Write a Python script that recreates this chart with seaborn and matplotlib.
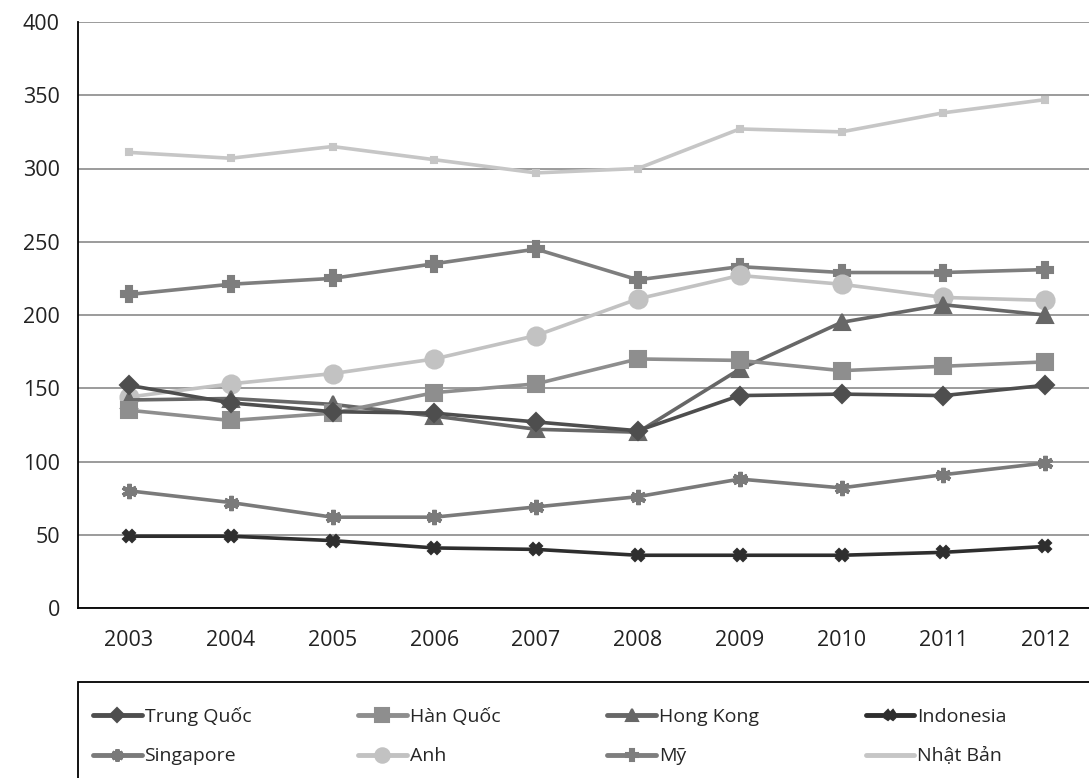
import pandas as pd
import numpy as np
import matplotlib
matplotlib.use("Agg")
import matplotlib.pyplot as plt
import seaborn as sns
from matplotlib.lines import Line2D
from matplotlib.patches import Rectangle

# du lieu doc tu bieu do goc
years = ["2003", "2004", "2005", "2006", "2007", "2008", "2009", "2010", "2011", "2012"]
trung_quoc = [152, 140, 134, 133, 127, 121, 145, 146, 145, 152]
han_quoc = [135, 128, 133, 147, 153, 170, 169, 162, 165, 168]
hong_kong = [142, 143, 139, 131, 122, 120, 163, 195, 207, 200]
indonesia = [49, 49, 46, 41, 40, 36, 36, 36, 38, 42]
singapore = [80, 72, 62, 62, 69, 76, 88, 82, 91, 99]
anh = [144, 153, 160, 170, 186, 211, 227, 221, 212, 210]
my = [214, 221, 225, 235, 245, 224, 233, 229, 229, 231]
nhat_ban = [311, 307, 315, 306, 297, 300, 327, 325, 338, 347]

names = ["Trung Quốc", "Hàn Quốc", "Hong Kong", "Indonesia",
         "Singapore", "Anh", "Mỹ", "Nhật Bản"]
series = [trung_quoc, han_quoc, hong_kong, indonesia, singapore, anh, my, nhat_ban]

colors = {"Trung Quốc": "#4e4e4e", "Hàn Quốc": "#8e8e8e", "Hong Kong": "#676767",
          "Indonesia": "#2e2e2e", "Singapore": "#7a7a7a", "Anh": "#c2c2c2",
          "Mỹ": "#7e7e7e", "Nhật Bản": "#c6c6c6"}
markers = {"Trung Quốc": "D", "Hàn Quốc": "s", "Hong Kong": "^", "Indonesia": "X",
           "Singapore": (6, 2, 0), "Anh": "o", "Mỹ": "P", "Nhật Bản": "s"}
msizes = {"Trung Quốc": 9, "Hàn Quốc": 12, "Hong Kong": 11, "Indonesia": 9,
          "Singapore": 11, "Anh": 13, "Mỹ": 11, "Nhật Bản": 5}
medges = {n: 1.5 for n in names}
medges["Singapore"] = 3.0

rows = []
for name, vals in zip(names, series):
    for i, v in enumerate(vals):
        rows.append({"x": i, "value": v, "country": name})
df = pd.DataFrame(rows)

sns.set_style("white")
plt.rcParams['font.family'] = ['Open Sans', 'DejaVu Sans']

fig = plt.figure(figsize=(10.89, 7.78), dpi=100)
ax = fig.add_axes([78 / 1089, 170 / 778, 1018 / 1089, 586 / 778])

# ve tung duong (de chinh kich thuoc marker rieng)
for name in names[::-1]:
    sub = df[df["country"] == name]
    sns.lineplot(data=sub, x="x", y="value", ax=ax, color=colors[name],
                 marker=markers[name], markersize=msizes[name], linewidth=2.6,
                 markeredgecolor=colors[name], markeredgewidth=medges[name],
                 legend=False)

ax.set_xlim(-0.5, 9.5)
ax.set_ylim(0, 400)
ax.set_yticks(range(0, 401, 50))
ax.set_xticks(range(len(years)))
ax.set_xticklabels(years)
ax.set_xticks(np.arange(-0.5, 9.6, 1), minor=True)
ax.set_xlabel("")
ax.set_ylabel("")
ax.yaxis.grid(True, color="#8a8a8a", linewidth=1.2)
ax.set_axisbelow(True)
for s in ["top", "right"]:
    ax.spines[s].set_visible(False)
ax.spines["left"].set_color("black")
ax.spines["bottom"].set_color("black")
ax.spines["left"].set_linewidth(1.3)
ax.spines["bottom"].set_linewidth(1.3)
ax.tick_params(axis="y", direction="out", length=7, width=1.2, color="black",
               labelsize=15.5, pad=6, labelcolor="#222222")
ax.tick_params(axis="x", which="major", length=0, labelsize=15.5, pad=16,
               labelcolor="#222222")
ax.tick_params(axis="x", which="minor", direction="out", length=8, width=1.2,
               color="black")

# chu thich: 2 hang x 4 cot, sap xep theo hang
order = [0, 4, 1, 5, 2, 6, 3, 7]
handles = [Line2D([0], [0], color=colors[names[k]], linewidth=3.5,
                  marker=(None if names[k] == "Nhật Bản" else markers[names[k]]),
                  markersize=msizes[names[k]] * 0.8,
                  markeredgecolor=colors[names[k]],
                  markeredgewidth=medges[names[k]])
           for k in order]
labels = [names[k] for k in order]
leg = fig.legend(handles, labels, ncol=4, loc="upper left",
                 frameon=False, fontsize=14,
                 handlelength=2.5, handletextpad=0.15, borderpad=0,
                 labelspacing=1.1, columnspacing=5.5, borderaxespad=0)
leg.set_bbox_to_anchor((93 / 1089, 1 - 707 / 778), transform=fig.transFigure)
fig.patches.append(Rectangle((78 / 1089, -0.02), 1.0, 96 / 778 + 0.02,
                             transform=fig.transFigure, fill=False,
                             edgecolor="black", linewidth=1.3))

fig.savefig("out.png", dpi=100)
